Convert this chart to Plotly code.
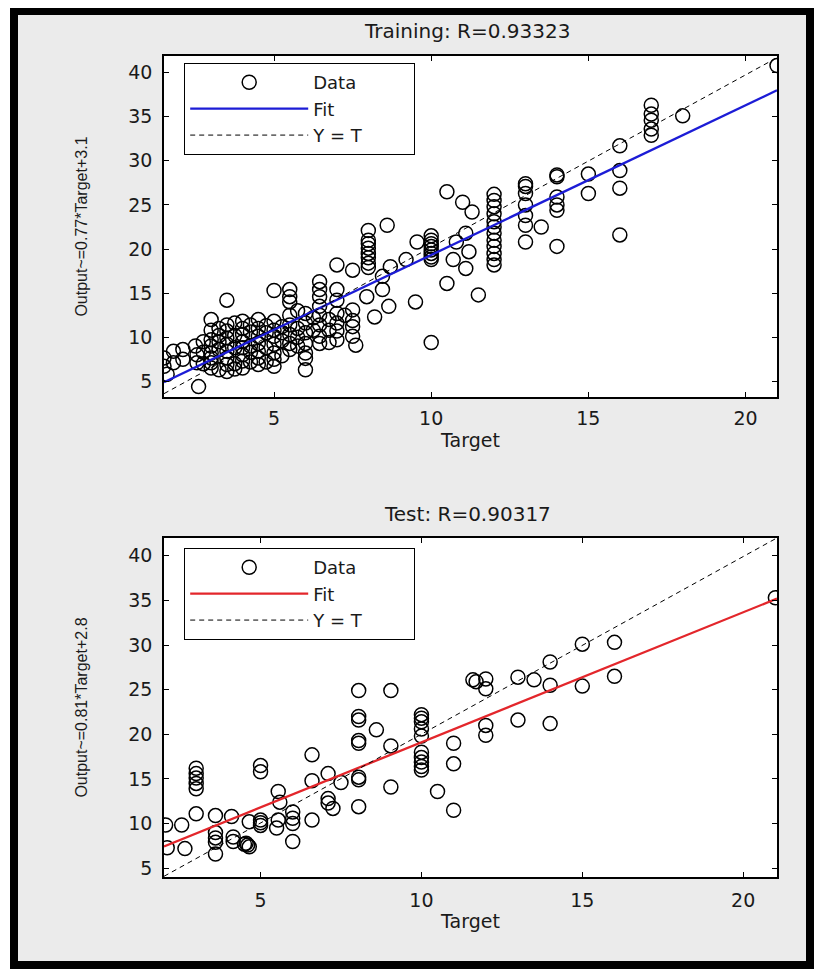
import plotly.graph_objects as go

# ---------------- data ----------------
train_target = [
    21.0, 18.0,
    17.0, 17.0, 17.0, 17.0, 17.0,
    16.0, 16.0, 16.0, 16.0,
    15.0, 15.0,
    14.0, 14.0, 14.0, 14.0, 14.0, 14.0,
    13.5,
    13.0, 13.0, 13.0, 13.0, 13.0, 13.0, 13.0,
    12.0, 12.0, 12.0, 12.0, 12.0, 12.0, 12.0, 12.0, 12.0, 12.0, 12.0, 12.0,
    11.5,
    10.5, 11.0, 11.3, 11.1, 10.8, 11.2, 10.7, 11.1, 10.5,
    10.0, 10.0, 10.0, 10.0, 10.0, 10.0, 10.0, 10.0,
    10.0,
    9.55, 9.5, 9.2,
    8.0, 8.0, 8.0, 8.0, 8.0, 8.0, 8.0, 8.0,
    8.6, 8.7, 8.45, 8.45, 8.65, 7.95, 8.2,
    7.0, 7.5,
    7.5, 7.5, 7.5, 7.5, 7.6,
    7.0, 7.0, 7.0, 7.0, 7.0, 7.0,
    6.45, 6.45, 6.45, 6.45, 6.45, 6.45, 6.45, 6.45,
    6.0, 6.0, 6.0, 6.0, 6.0, 6.0, 6.0,
    5.5, 5.5, 5.5, 5.5, 5.5, 5.5, 5.5, 5.5,
    5.0, 5.0, 5.0, 5.0, 5.0, 5.0, 5.0, 5.0,
    4.5, 4.5, 4.5, 4.5, 4.5, 4.5, 4.5,
    4.0, 4.0, 4.0, 4.0, 4.0, 4.0, 4.0, 4.0,
    3.5, 3.5, 3.5, 3.5, 3.5, 3.5, 3.5, 3.5, 3.5,
    3.0, 3.0, 3.0, 3.0, 3.0, 3.0, 3.0, 3.0,
    2.5, 2.55, 2.55, 2.6,
    1.5, 1.5, 1.8, 1.8, 2.1, 2.1, 1.6,
    3.25, 3.75, 4.25, 4.75, 5.25, 5.75, 6.25, 6.75, 6.75, 7.25, 5.75, 3.25, 4.25,
    2.75, 2.75, 2.75,
    3.25, 3.25, 3.25,
    3.75, 3.75, 3.75, 3.75,
    4.25, 4.25, 4.25,
    4.75, 4.75, 4.75,
    5.25, 5.25, 5.25,
    5.75, 5.75,
    6.25, 6.75,
]
train_output = [
    40.8, 35.1,
    36.3, 35.3, 34.6, 33.6, 32.9,
    31.7, 28.9, 26.9, 21.6,
    28.5, 26.3,
    28.4, 28.2, 25.9, 25.0, 24.4, 20.3,
    22.5,
    27.4, 27.1, 26.3, 25.0, 23.8, 22.7, 20.8,
    26.2, 25.5, 24.8, 24.0, 23.1, 22.5, 21.8, 21.0, 20.3, 19.5, 18.8, 18.2,
    14.8,
    26.5, 25.3, 24.2, 21.8, 20.8, 19.7, 18.8, 17.8, 16.1,
    21.5, 21.0, 20.6, 20.3, 19.9, 19.5, 19.1, 18.8,
    9.4,
    20.8, 14.0, 18.8,
    22.1, 21.0, 20.6, 20.1, 19.5, 19.0, 18.4, 17.9,
    22.7, 18.0, 16.9, 15.4, 13.5, 14.6, 12.3,
    18.2, 17.6,
    13.1, 11.9, 11.2, 10.1, 9.1,
    15.4, 14.2, 12.7, 11.6, 10.7, 9.7,
    16.3, 15.4, 14.6, 13.5, 12.5, 11.4, 10.1, 9.3,
    12.7, 11.6, 10.5, 9.3, 8.2, 7.6, 6.3,
    15.4, 14.6, 14.0, 12.5, 11.4, 10.3, 9.3, 8.6,
    15.3, 11.8, 10.8, 10.1, 9.2, 8.2, 7.5, 6.7,
    12.0, 11.0, 10.1, 9.3, 8.4, 7.65, 6.9,
    11.8, 11.0, 10.3, 9.5, 8.8, 8.0, 7.3, 6.5,
    14.2, 11.4, 10.7, 9.9, 9.2, 8.4, 7.65, 6.9, 6.1,
    12.0, 10.8, 9.7, 9.0, 8.2, 7.65, 7.1, 6.5,
    9.0, 8.0, 7.1, 4.4,
    7.65, 6.7, 8.4, 7.1, 8.6, 7.5, 5.8,
    8.6, 7.0, 9.0, 10.5, 9.6, 11.0, 10.8, 12.0, 9.4, 12.5, 13.0, 10.2, 7.2,
    9.5, 8.3, 7.0,
    11.0, 9.5, 6.3,
    11.6, 10.2, 8.8, 6.4,
    11.4, 10.6, 8.3,
    11.3, 8.8, 7.2,
    11.2, 10.5, 7.9,
    10.0, 9.0,
    12.2, 10.8,
]

test_target = [
    21.0,
    16.0, 16.0,
    15.0, 15.0,
    14.0, 14.0, 14.0,
    13.5,
    13.0, 13.0,
    12.0, 12.0, 12.0, 12.0,
    11.6, 11.7,
    11.0, 11.0, 11.0,
    10.5,
    10.0, 10.0, 10.0, 10.0, 10.0, 10.0, 10.0, 10.0, 10.0, 10.0,
    9.05, 9.05, 9.05,
    8.6,
    8.05, 8.05, 8.05, 8.05, 8.05, 8.05, 8.05, 8.05,
    7.5,
    7.1, 7.1, 7.1, 7.25,
    6.6, 6.6, 6.6,
    6.0, 6.0, 6.0, 6.0,
    5.55, 5.6, 5.55, 5.5,
    5.0, 5.0, 5.0, 5.0, 5.0,
    4.65, 4.1,
    4.55, 4.6, 4.65, 4.5,
    4.15, 4.15,
    3.6, 3.6, 3.6, 3.6, 3.6,
    3.0, 3.0, 3.0, 3.0, 3.0, 3.0,
    2.55, 2.05, 2.65, 2.1,
]
test_output = [
    35.3,
    30.3, 26.5,
    30.1, 25.4,
    28.1, 25.5, 21.2,
    26.1,
    26.4, 21.6,
    26.2, 25.1, 21.0, 19.9,
    26.1, 25.9,
    19.0, 16.7, 11.5,
    13.6,
    22.2, 21.8, 21.4, 20.6, 19.8, 18.0, 17.4, 16.9, 16.4, 16.0,
    24.9, 18.7, 14.1,
    20.5,
    24.9, 22.0, 21.6, 19.3, 19.0, 15.2, 14.9, 11.9,
    14.6,
    15.6, 12.8, 12.3, 11.7,
    17.7, 10.4, 14.8,
    11.3, 10.6, 10.0, 8.0,
    13.6, 12.4, 10.4, 9.5,
    16.5, 15.8, 10.4, 9.8, 10.1,
    10.2, 10.8,
    7.8, 7.6, 7.4, 7.7,
    8.5, 8.0,
    9.0, 8.4, 7.9, 6.6, 10.9,
    16.2, 15.6, 15.1, 14.5, 13.9, 11.1,
    9.85, 9.85, 7.2, 7.3,
]

# fit lines and Y = T reference lines (end points)
train_fit_x = [1.5, 21.0]
train_fit_y = [4.9, 38.0]
train_ref_x = [1.5, 21.0]
train_ref_y = [3.6, 41.7]

test_fit_x = [2.0, 21.05]
test_fit_y = [7.45, 35.2]
test_ref_x = [2.0, 21.05]
test_ref_y = [4.1, 42.0]

titles = ["Training: R=0.93323", "Test: R=0.90317"]
ylabels = ["Output~=0.77*Target+3.1", "Output~=0.81*Target+2.8"]
xlabel = "Target"
legend_names = ["Data", "Fit", "Y = T"]
x_ticks = [5, 10, 15, 20]
y_ticks = [5, 10, 15, 20, 25, 30, 35, 40]
train_xrange = [1.5, 21.0]
train_yrange = [3.2, 41.9]
test_xrange = [2.0, 21.05]
test_yrange = [4.0, 42.0]

# ---------------- figure ----------------
# the page adds an 8px body margin, so the figure is 8px smaller on each axis
OFF = 8
W, H = 823 - OFF, 972 - OFF
FONT = "DejaVu Sans"
TXT = "#1a1a1a"
NBSP = "\u00a0"


def fx(p):
    return (p - OFF) / W


def fy(p):
    return 1 - (p - OFF) / H


fig = go.Figure()

panels = [
    dict(xa="x", ya="y", leg="legend", tx=train_target, ty=train_output,
         fitx=train_fit_x, fity=train_fit_y, refx=train_ref_x, refy=train_ref_y,
         color="#1c1cd6"),
    dict(xa="x2", ya="y2", leg="legend2", tx=test_target, ty=test_output,
         fitx=test_fit_x, fity=test_fit_y, refx=test_ref_x, refy=test_ref_y,
         color="#e3262b"),
]

for p in panels:
    fig.add_trace(go.Scatter(
        x=p["tx"], y=p["ty"], mode="markers", name=legend_names[0],
        xaxis=p["xa"], yaxis=p["ya"], legend=p["leg"],
        marker=dict(symbol="circle-open", size=14, color="black",
                    line=dict(width=1.5, color="black")),
    ))
    fig.add_trace(go.Scatter(
        x=p["fitx"], y=p["fity"], mode="lines", name=legend_names[1],
        xaxis=p["xa"], yaxis=p["ya"], legend=p["leg"],
        line=dict(color=p["color"], width=2.3),
    ))
    fig.add_trace(go.Scatter(
        x=p["refx"], y=p["refy"], mode="lines",
        name=legend_names[2] + NBSP * 8,   # trailing space widens the legend box
        xaxis=p["xa"], yaxis=p["ya"], legend=p["leg"],
        line=dict(color="black", width=1, dash="5px,4px"),
    ))


def axis_common():
    return dict(
        ticks="inside", ticklen=5, tickwidth=1, tickcolor="black",
        showline=True, linecolor="black", linewidth=1.6, mirror="ticks",
        showgrid=False, zeroline=False,
        tickfont=dict(family=FONT, size=19, color=TXT),
    )


x_dom = [fx(164), fx(777)]
top_dom = [fy(398), fy(56)]
bot_dom = [fy(879), fy(539)]

ytitle_font = dict(family="Liberation Sans", size=16, color=TXT)
xtitle_font = dict(family=FONT, size=19, color=TXT)

fig.update_layout(
    width=W, height=H,
    margin=dict(l=0, r=0, t=0, b=0),
    paper_bgcolor="white", plot_bgcolor="white",
    showlegend=True,
    xaxis=dict(domain=x_dom, range=train_xrange, tickvals=x_ticks, anchor="y",
               title=dict(text=xlabel, font=xtitle_font, standoff=2),
               ticklabelstandoff=3, **axis_common()),
    yaxis=dict(domain=top_dom, range=train_yrange, tickvals=y_ticks, anchor="x",
               title=dict(text=ylabels[0], font=ytitle_font, standoff=37),
               ticklabelstandoff=6, **axis_common()),
    xaxis2=dict(domain=x_dom, range=test_xrange, tickvals=x_ticks, anchor="y2",
                title=dict(text=xlabel, font=xtitle_font, standoff=5),
                ticklabelstandoff=5, **axis_common()),
    yaxis2=dict(domain=bot_dom, range=test_yrange, tickvals=y_ticks, anchor="x2",
                title=dict(text=ylabels[1], font=ytitle_font, standoff=37),
                ticklabelstandoff=6, **axis_common()),
)

legend_common = dict(
    xanchor="left", yanchor="top",
    bgcolor="white", bordercolor="black", borderwidth=1.2,
    font=dict(family=FONT, size=18, color=TXT),
    itemwidth=118, tracegroupgap=0, itemclick=False, itemdoubleclick=False,
)
fig.update_layout(
    legend=dict(x=fx(184), y=fy(63), **legend_common),
    legend2=dict(x=fx(184), y=fy(549), **legend_common),
)

# subplot titles
title_font = dict(family=FONT, size=20, color=TXT)
fig.add_annotation(text=titles[0], xref="paper", yref="paper", x=fx(467), y=fy(31),
                   showarrow=False, font=title_font, xanchor="center", yanchor="middle")
fig.add_annotation(text=titles[1], xref="paper", yref="paper", x=fx(467), y=fy(515),
                   showarrow=False, font=title_font, xanchor="center", yanchor="middle")

# figure frame: light grey panel with a thick black border
fig.add_shape(type="rect", xref="paper", yref="paper",
              x0=fx(14), x1=fx(810), y0=fy(967), y1=fy(11),
              fillcolor="#ebebeb", line=dict(color="black", width=8), layer="below")
for xr, yr in [("x domain", "y domain"), ("x2 domain", "y2 domain")]:
    fig.add_shape(type="rect", xref=xr, yref=yr, x0=0, x1=1, y0=0, y1=1,
                  fillcolor="white", line=dict(width=0), layer="below")

fig.write_html("out.html")
